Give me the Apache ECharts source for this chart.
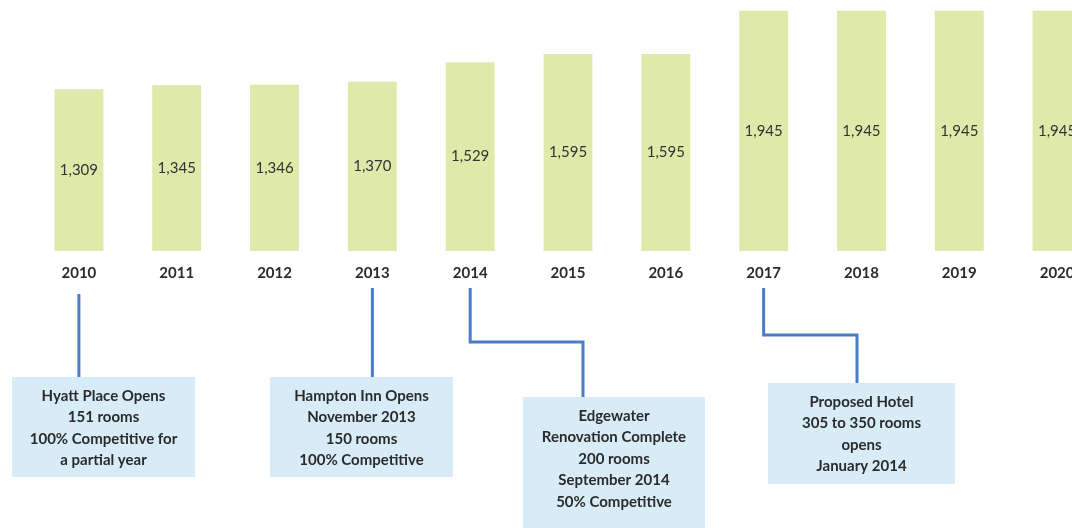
<!DOCTYPE html>
<html>
<head>
<meta charset="utf-8">
<script src="https://cdn.jsdelivr.net/npm/echarts@6/dist/echarts.min.js"></script>
<style>
  html, body { margin: 0; padding: 0; background: #fff; }
  #chart { width: 1072px; height: 528px; }
</style>
</head>
<body>
<div id="chart"></div>
<script>
// data
const years = ['2010', '2011', '2012', '2013', '2014', '2015', '2016', '2017', '2018', '2019', '2020']
const rooms = [1309, 1345, 1346, 1370, 1529, 1595, 1595, 1945, 1945, 1945, 1945]

const noteYears = ['2010', '2013', '2014', '2017']
const noteTexts = [
  'Hyatt Place Opens\n151 rooms\n100% Competitive for\na partial year',
  'Hampton Inn Opens\nNovember 2013\n150 rooms\n100% Competitive',
  'Edgewater\nRenovation Complete\n200 rooms\nSeptember 2014\n50% Competitive',
  'Proposed Hotel\n305 to 350 rooms\nopens\nJanuary 2014'
]

// callout box layout (box rect, connector start y, elbow y, drop x)
const boxes = [
  { x: 12, y: 377, w: 183, h: 100, top: 294, elbow: null, drop: null },
  { x: 270, y: 377, w: 183, h: 100, top: 288, elbow: null, drop: null },
  { x: 523, y: 397, w: 182, h: 140, top: 288, elbow: 342, drop: 583 },
  { x: 768, y: 383, w: 187, h: 101, top: 288, elbow: 335, drop: 857 }
]

const chart = echarts.init(document.getElementById('chart'))
chart.setOption({
  animation: false,
  grid: { left: 30, width: 1076, top: 4, bottom: 277, outerBoundsMode: 'none', containLabel: false },
  xAxis: {
    type: 'category',
    data: years,
    axisLine: { show: false },
    axisTick: { show: false },
    axisLabel: {
      margin: 15,
      fontFamily: 'Lato',
      fontWeight: 'bold',
      fontSize: 15,
      color: '#2b2b2b'
    }
  },
  yAxis: {
    type: 'value',
    min: 0,
    max: 2000,
    show: false,
    splitLine: { show: false }
  },
  series: [
    {
      type: 'bar',
      data: rooms,
      barWidth: '50%',
      itemStyle: { color: '#dfe9aa' },
      label: {
        show: true,
        position: 'inside',
        fontFamily: 'Lato',
        fontSize: 15,
        color: '#333',
        formatter: p => p.value.toLocaleString('en-US')
      }
    }
  ]
})

// callouts: connector x taken from the category axis
const graphics = []
noteYears.forEach((yr, i) => {
  const b = boxes[i]
  const x0 = chart.convertToPixel({ xAxisIndex: 0 }, yr)
  const cx = b.x + b.w / 2
  let pts
  if (b.elbow === null) {
    pts = [[x0, b.top], [x0, b.y]]
  } else {
    pts = [[x0, b.top], [x0, b.elbow], [b.drop, b.elbow], [b.drop, b.y]]
  }
  graphics.push({
    type: 'rect',
    shape: { x: b.x, y: b.y, width: b.w, height: b.h },
    style: { fill: '#d8ecf8' }
  })
  graphics.push({
    type: 'polyline',
    shape: { points: pts },
    style: { stroke: '#4a7cc8', lineWidth: 3, fill: null }
  })
  const lines = noteTexts[i].split('\n').length
  graphics.push({
    type: 'text',
    x: cx,
    y: b.y + 8 + (lines * 21.5) / 2,
    style: {
      text: noteTexts[i],
      align: 'center',
      verticalAlign: 'middle',
      fontFamily: 'Lato',
      fontWeight: 'bold',
      fontSize: 15,
      lineHeight: 21.5,
      fill: '#2b2b2b'
    }
  })
})
chart.setOption({ graphic: graphics })
</script>
</body>
</html>
